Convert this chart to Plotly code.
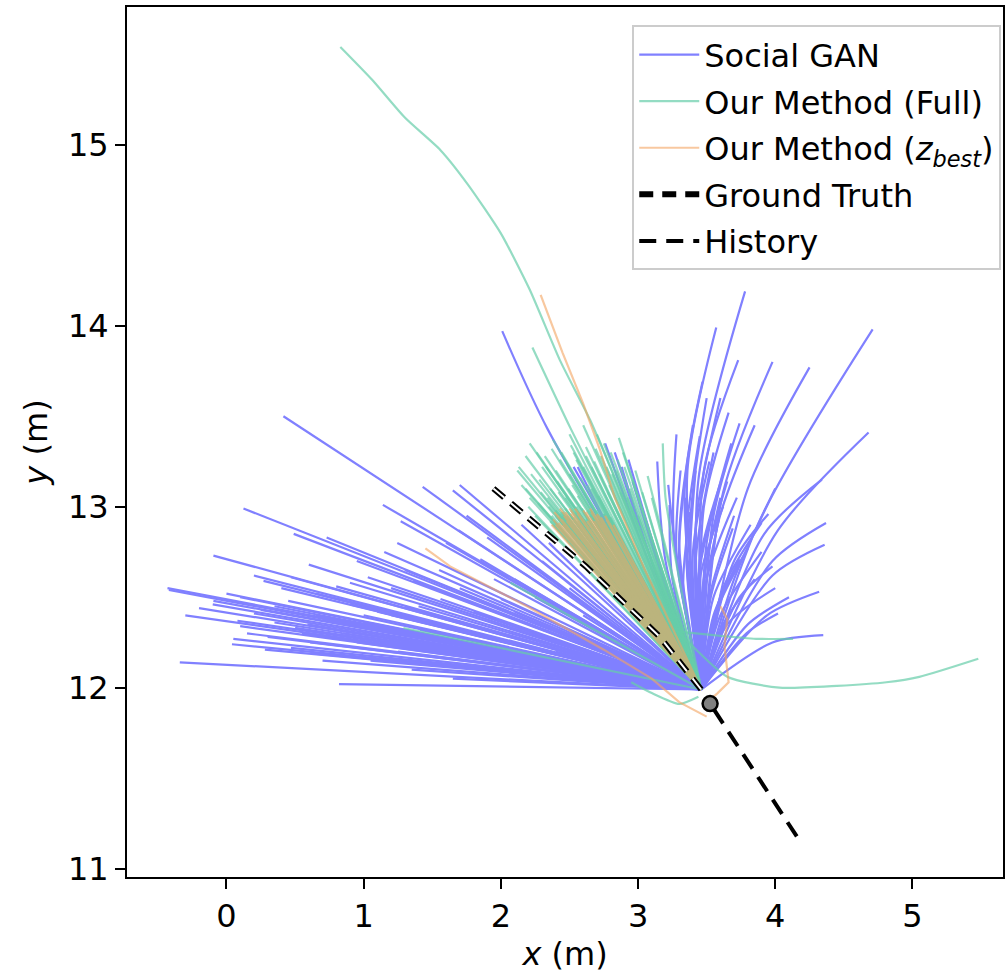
import plotly.graph_objects as go

# ---------------- data ----------------
ORIGIN_X = 3.46
ORIGIN_Y = 11.99

# Social GAN: nearly straight samples fanning to the left (end points)
SGAN_STRAIGHT_END_X = [0.415, 0.124, 0.49, -0.095, -0.43, -0.42, -0.095, 0.27, 0.47, 0.20, 0.08, 0.10,
                       0.04, -0.34, 0.82, 1.65, 1.14, 1.27, 1.43, 1.65, 1.70, 1.245, 1.03, 0.61, 0.62,
                       0.59, 0.73, 1.69, 1.90, 1.36, 0.76, 0.90, 0.28, 0.47, 1.19, 1.41, 1.05, 1.56,
                       1.85, 2.0, 2.3, 2.1, 2.5, 2.2, 2.6, 1.8, 2.4, 1.0, 1.3, 0.95, 1.55, 1.75, 2.15,
                       0.35, 0.65, 1.5, 2.05, 2.35, 1.2, 0.55,
                       -0.2, 0.0, 0.15, 0.3, 0.5, 0.7, 0.85, 1.1, 1.25, 1.45, 0.4, 0.6, 0.9, 1.15,
                       1.6, 1.95, 2.25, 0.05, 0.35, 1.35,
                       -0.3, -0.1, 0.1, 0.25, 0.45, 0.65, 0.8, 1.0, 1.2, 1.4, 1.6, 1.8, 0.2, 0.55,
                       0.95, 1.3, 1.7, 2.1, 2.45, 0.7]
SGAN_STRAIGHT_END_Y = [13.50, 12.99, 12.85, 12.73, 12.55, 12.54, 12.48, 12.59, 12.61, 12.41, 12.37, 12.34,
                       12.24, 12.14, 12.02, 12.05, 13.01, 12.92, 13.11, 13.09, 13.12, 12.80, 12.61, 12.25,
                       12.19, 12.35, 12.83, 12.87, 12.83, 12.59, 12.50, 12.46, 12.21, 12.22, 12.27, 12.32,
                       12.15, 12.49, 12.71, 12.49, 12.70, 12.60, 12.55, 12.35, 12.40, 12.30, 12.20, 12.40,
                       12.45, 12.70, 12.65, 12.95, 12.90, 12.45, 12.40, 12.20, 12.10, 12.80, 12.55, 12.30,
                       12.44, 12.52, 12.30, 12.28, 12.33, 12.38, 12.30, 12.42, 12.20, 12.25, 12.55, 12.68,
                       12.58, 12.75, 12.80, 12.60, 12.50, 12.27, 12.36, 12.10,
                       12.40, 12.46, 12.50, 12.43, 12.48, 12.52, 12.56, 12.36, 12.40, 12.45, 12.38, 12.42,
                       12.62, 12.30, 12.25, 12.65, 12.55, 12.42, 12.30, 12.15]

# Social GAN: curved samples (one point read on the bend, and the end point)
SGAN_CURVE_MID_X = [3.44, 3.36, 3.48, 3.62, 3.80, 3.89, 4.02, 3.92, 3.98, 3.98, 3.94, 3.98, 3.79, 3.74,
                    3.70, 3.48, 3.34, 3.20, 3.25, 3.55, 3.50, 3.48, 3.53, 3.58, 3.45, 3.30, 3.28, 3.43,
                    3.35, 3.33, 3.62, 3.55, 2.34, 3.05, 3.10, 3.15, 3.18, 3.12, 2.95, 2.92, 3.30, 3.42,
                    3.47, 3.52, 3.56, 3.62, 3.70, 3.38, 3.26, 3.80,
                    3.40, 3.45, 3.50, 3.55, 3.60, 3.38, 3.36, 3.50, 3.58, 3.65, 3.30, 3.42]
SGAN_CURVE_MID_Y = [13.15, 13.20, 13.20, 13.08, 13.10, 12.93, 12.87, 12.85, 12.70, 12.62, 12.40, 12.25,
                    12.30, 12.50, 12.70, 13.00, 13.10, 12.70, 12.60, 12.95, 12.70, 12.50, 12.50, 12.45,
                    12.70, 12.70, 12.75, 12.55, 12.80, 12.55, 12.55, 12.40, 13.43, 12.75, 12.70, 12.70,
                    12.60, 12.65, 12.65, 12.70, 12.80, 12.70, 12.55, 12.50, 12.40, 12.35, 12.60, 12.90,
                    12.85, 12.35,
                    12.75, 12.60, 12.60, 12.50, 12.40, 12.70, 12.60, 12.80, 12.90, 12.35, 12.60, 12.90]
SGAN_CURVE_END_X = [3.78, 3.57, 3.73, 3.98, 4.25, 4.71, 4.68, 4.34, 4.37, 4.36, 4.32, 4.35, 4.02, 3.98,
                    3.95, 3.66, 3.47, 3.14, 3.23, 3.74, 3.65, 3.59, 3.69, 3.80, 3.63, 3.34, 3.31, 3.54,
                    3.45, 3.38, 3.90, 3.74, 2.01, 2.76, 2.83, 2.93, 2.96, 2.88, 2.56, 2.53, 3.40, 3.55,
                    3.60, 3.70, 3.75, 3.85, 4.00, 3.50, 3.28, 4.10,
                    3.52, 3.62, 3.72, 3.82, 3.90, 3.42, 3.35, 3.68, 3.85, 4.00, 3.22, 3.60]
SGAN_CURVE_END_Y = [14.19, 13.99, 13.81, 13.80, 13.77, 13.98, 13.41, 13.15, 12.91, 12.79, 12.53, 12.29,
                    12.41, 12.67, 12.96, 13.52, 13.69, 13.25, 13.01, 13.46, 13.14, 12.93, 12.88, 12.77,
                    13.20, 13.13, 13.20, 12.98, 13.39, 12.97, 12.91, 12.71, 13.97, 13.35, 13.30, 13.26,
                    13.14, 13.22, 13.22, 13.22, 13.45, 13.30, 13.05, 12.95, 12.70, 12.60, 13.10, 13.60,
                    13.40, 12.50,
                    13.25, 13.00, 13.05, 12.90, 12.75, 13.20, 13.05, 13.35, 13.45, 12.55, 13.12, 13.60]

# Our Method (Full): straight samples (end points)
FULL_END_X = [2.13, 2.21, 2.12, 2.21, 2.28, 2.32, 2.36, 2.40, 2.43, 2.47, 2.50, 2.53, 2.57, 2.60, 2.62,
              2.66, 2.68, 2.72, 2.75, 2.78, 2.80, 2.84, 2.89, 2.92, 2.96, 3.00, 3.07, 2.35, 2.45, 2.55,
              2.65, 2.25, 2.07, 1.29, 2.50, 2.60, 2.38, 2.18, 2.30, 2.70, 2.86, 2.52,
              2.15, 2.18, 2.22, 2.26, 2.29, 2.33, 2.37, 2.41, 2.44, 2.48, 2.51, 2.55, 2.58, 2.62,
              2.66, 2.69, 2.73, 2.77, 2.81, 2.85, 2.90, 2.94, 2.98, 3.03, 3.10, 2.20, 2.27, 2.34,
              2.42, 2.49, 2.56, 2.63, 2.71, 2.79, 2.87, 2.95, 2.40, 2.45, 2.50, 2.55, 2.60, 2.65,
              2.70, 2.75, 2.80, 2.42, 2.52, 2.62, 2.72, 2.36]
FULL_END_Y = [13.22, 13.35, 13.20, 13.05, 13.15, 13.28, 13.10, 13.20, 13.26, 13.05, 13.18, 13.30, 13.12,
              13.22, 13.33, 13.10, 13.25, 13.18, 13.35, 13.08, 13.30, 13.20, 13.30, 13.05, 13.15, 12.95,
              13.17, 13.00, 12.95, 13.00, 12.98, 12.95, 12.58, 12.33, 13.40, 13.45, 13.37, 13.10, 13.22,
              13.40, 13.38, 13.12,
              13.12, 13.28, 13.18, 13.30, 13.08, 13.22, 13.32, 13.14, 13.30, 13.24, 13.34, 13.26,
              13.16, 13.28, 13.22, 13.32, 13.28, 13.22, 13.18, 13.26, 13.22, 13.10, 13.20, 13.08,
              13.05, 13.00, 13.02, 13.05, 13.08, 13.10, 13.06, 13.12, 13.06, 13.12, 13.08, 13.00,
              12.95, 12.97, 12.96, 12.98, 12.97, 12.95, 12.98, 12.96, 12.94, 12.93, 12.94, 12.93,
              12.92, 12.92]

# Our Method (Full): the dense bundle under the z_best samples (end points)
FULL_CORE_END_X = [2.37, 2.39, 2.40, 2.42, 2.44, 2.45, 2.47, 2.48, 2.50, 2.51, 2.53, 2.54, 2.56, 2.57,
                   2.59, 2.60, 2.62, 2.63, 2.65, 2.66, 2.68, 2.69, 2.71, 2.72, 2.74, 2.75, 2.77, 2.78,
                   2.80, 2.82, 2.38, 2.43, 2.49, 2.55, 2.61, 2.67, 2.73, 2.79, 2.46, 2.58]
FULL_CORE_END_Y = [12.95, 12.92, 12.98, 12.94, 12.97, 12.92, 12.99, 12.95, 12.93, 12.98, 12.94, 12.97,
                   12.92, 12.96, 12.99, 12.93, 12.95, 12.98, 12.92, 12.96, 12.94, 12.97, 12.92, 12.95,
                   12.93, 12.96, 12.91, 12.94, 12.92, 12.90, 12.90, 12.96, 12.91, 12.95, 12.91, 12.93,
                   12.90, 12.92, 12.90, 12.91]

# Our Method (Full): samples with a bend (explicit points)
FULL_PATHS_X = [
    [0.83, 1.06, 1.30, 1.56, 1.76, 2.00, 2.21, 2.43, 2.65, 2.87, 3.16, 3.45],
    [2.23, 2.51, 3.46],
    [3.15, 3.33, 3.65, 4.03, 4.45, 4.81, 5.05, 5.48],
    [3.16, 3.55, 3.86, 4.13],
    [3.18, 3.20, 3.30, 3.46],
    [3.44, 3.30, 3.10, 2.95],
]
FULL_PATHS_Y = [
    [15.54, 15.36, 15.15, 14.97, 14.78, 14.51, 14.20, 13.81, 13.48, 13.09, 12.60, 12.04],
    [13.88, 13.43, 11.99],
    [12.42, 12.28, 12.06, 12.00, 12.01, 12.03, 12.06, 12.16],
    [12.32, 12.29, 12.27, 12.27],
    [13.35, 13.05, 12.60, 11.99],
    [11.95, 11.91, 11.97, 12.03],
]

# Our Method (z_best): dense straight samples (end points)
ZBEST_END_X = [2.38, 2.41, 2.44, 2.47, 2.50, 2.53, 2.56, 2.59, 2.62, 2.65, 2.68, 2.71, 2.74, 2.77,
               2.45, 2.55, 2.65, 2.51, 2.58, 2.40, 2.70, 2.48, 2.62, 2.75,
               2.39, 2.42, 2.46, 2.49, 2.52, 2.54, 2.57, 2.60, 2.63, 2.66, 2.69, 2.72, 2.76, 2.79,
               2.82, 2.43, 2.53, 2.63, 2.73, 2.37]
ZBEST_END_Y = [12.93, 12.95, 12.93, 12.97, 12.99, 12.95, 12.96, 12.93, 12.97, 12.94, 12.92, 12.95,
               12.90, 12.93, 12.90, 12.92, 12.99, 12.96, 12.94, 12.90, 12.96, 12.92, 12.90, 12.88,
               12.97, 12.91, 12.95, 12.92, 12.96, 12.99, 12.91, 12.98, 12.92, 12.97, 12.95, 12.91,
               12.95, 12.91, 12.90, 12.99, 12.93, 12.92, 12.94, 12.90]

# Our Method (z_best): samples with a bend (explicit points)
ZBEST_PATHS_X = [
    [1.45, 1.63, 2.19, 2.75, 3.10, 3.30, 3.50],
    [3.52, 3.58, 3.66, 3.63, 3.65, 3.60],
    [2.29, 2.45, 2.60, 2.72, 2.83, 3.05, 3.30, 3.46],
]
ZBEST_PATHS_Y = [
    [12.77, 12.67, 12.45, 12.21, 12.05, 11.92, 11.84],
    [11.93, 11.97, 12.03, 12.23, 12.38, 12.45],
    [14.17, 13.85, 13.57, 13.32, 13.05, 12.65, 12.25, 11.99],
]

GT_X = [3.46, 3.16, 2.62, 2.19, 1.90]
GT_Y = [11.99, 12.28, 12.67, 12.945, 13.13]

HIST_X = [4.157, 3.525]
HIST_Y = [11.178, 11.912]

LAST_X = [3.525]
LAST_Y = [11.912]

X_TICKS = [0, 1, 2, 3, 4, 5]
Y_TICKS = [11, 12, 13, 14, 15]

# ---------------- styles ----------------
BLUE = "rgb(128,128,255)"
GREEN = "rgba(102,205,170,0.7)"
ORANGE = "rgb(244,164,96)"
FONT = "DejaVu Sans"
FS = 32

fig = go.Figure()

# Social GAN: one trace
sx, sy = [], []
for ex, ey in zip(SGAN_STRAIGHT_END_X, SGAN_STRAIGHT_END_Y):
    sx += [ORIGIN_X, ex, None]
    sy += [ORIGIN_Y, ey, None]
for mx, my, ex, ey in zip(SGAN_CURVE_MID_X, SGAN_CURVE_MID_Y, SGAN_CURVE_END_X, SGAN_CURVE_END_Y):
    sx += [ORIGIN_X, mx, ex, None]
    sy += [ORIGIN_Y, my, ey, None]
fig.add_trace(go.Scatter(x=sx, y=sy, mode="lines", name="Social GAN",
                         line=dict(color=BLUE, width=2.2, shape="spline", smoothing=0.8),
                         legendgroup="sgan", legendrank=1, hoverinfo="skip"))

# Our Method (Full): separate traces so overlaps build up
first = True
for ex, ey in zip(FULL_END_X + FULL_CORE_END_X, FULL_END_Y + FULL_CORE_END_Y):
    fig.add_trace(go.Scatter(x=[ORIGIN_X, ex], y=[ORIGIN_Y, ey], mode="lines",
                             name="Our Method (Full)", line=dict(color=GREEN, width=2.2),
                             legendgroup="full", showlegend=first, legendrank=2, hoverinfo="skip"))
    first = False
for px, py in zip(FULL_PATHS_X, FULL_PATHS_Y):
    fig.add_trace(go.Scatter(x=px, y=py, mode="lines", name="Our Method (Full)",
                             line=dict(color=GREEN, width=2.2, shape="spline", smoothing=0.6),
                             legendgroup="full", showlegend=False, hoverinfo="skip"))

# Our Method (z_best): one trace, translucent as a whole
zx, zy = [], []
for ex, ey in zip(ZBEST_END_X, ZBEST_END_Y):
    zx += [ORIGIN_X, ex, None]
    zy += [ORIGIN_Y, ey, None]
for px, py in zip(ZBEST_PATHS_X, ZBEST_PATHS_Y):
    zx += px + [None]
    zy += py + [None]
fig.add_trace(go.Scatter(x=zx, y=zy, mode="lines", opacity=0.6,
                         name="Our Method (<i>z</i><sub><i>best</i></sub>)",
                         line=dict(color=ORANGE, width=2.2),
                         legendgroup="zbest", legendrank=3, hoverinfo="skip"))

# Ground truth: black dashes with a white core
fig.add_trace(go.Scatter(x=GT_X, y=GT_Y, mode="lines", name="Ground Truth",
                         line=dict(color="black", width=6, dash="14px,9px"),
                         legendgroup="gt", legendrank=4, hoverinfo="skip"))
fig.add_trace(go.Scatter(x=GT_X, y=GT_Y, mode="lines", name="Ground Truth",
                         line=dict(color="white", width=2, dash="14px,9px"),
                         legendgroup="gt", showlegend=False, hoverinfo="skip"))

# History
fig.add_trace(go.Scatter(x=HIST_X, y=HIST_Y, mode="lines", name="History",
                         line=dict(color="black", width=4, dash="17px,10px"),
                         legendgroup="hist", legendrank=5, hoverinfo="skip"))

# Last observed position
fig.add_trace(go.Scatter(x=LAST_X, y=LAST_Y, mode="markers", showlegend=False,
                         marker=dict(size=15, color="rgb(128,128,128)",
                                     line=dict(color="black", width=2.5)),
                         hoverinfo="skip"))

axis_common = dict(showgrid=False, zeroline=False, showline=True, linewidth=2,
                   linecolor="black", mirror=True, ticks="outside", ticklen=10,
                   tickwidth=2, tickcolor="black", automargin=False,
                   tickfont=dict(family=FONT, size=FS, color="black"))

fig.update_layout(
    width=1008, height=973,
    margin=dict(l=127, r=5, t=7, b=96),
    plot_bgcolor="white", paper_bgcolor="white",
    font=dict(family=FONT, size=FS, color="black"),
    xaxis=dict(range=[-0.725, 5.66], tickvals=X_TICKS,
               title=dict(text="<i>x</i> (m)", font=dict(family=FONT, size=FS), standoff=10),
               **axis_common),
    yaxis=dict(range=[10.954, 15.761], tickvals=Y_TICKS,
               title=dict(text="<i>y</i> (m)", font=dict(family=FONT, size=FS), standoff=11),
               **axis_common),
    legend=dict(x=0.998, y=0.979, xanchor="right", yanchor="top",
                bgcolor="rgba(255,255,255,0.85)", bordercolor="#cccccc", borderwidth=2,
                font=dict(family=FONT, size=FS, color="black"),
                traceorder="grouped", tracegroupgap=2, itemwidth=60),
    showlegend=True,
)

fig.write_html("out.html", config={"displayModeBar": False},
               post_script="document.body.style.margin='0';document.body.style.overflow='hidden';")
